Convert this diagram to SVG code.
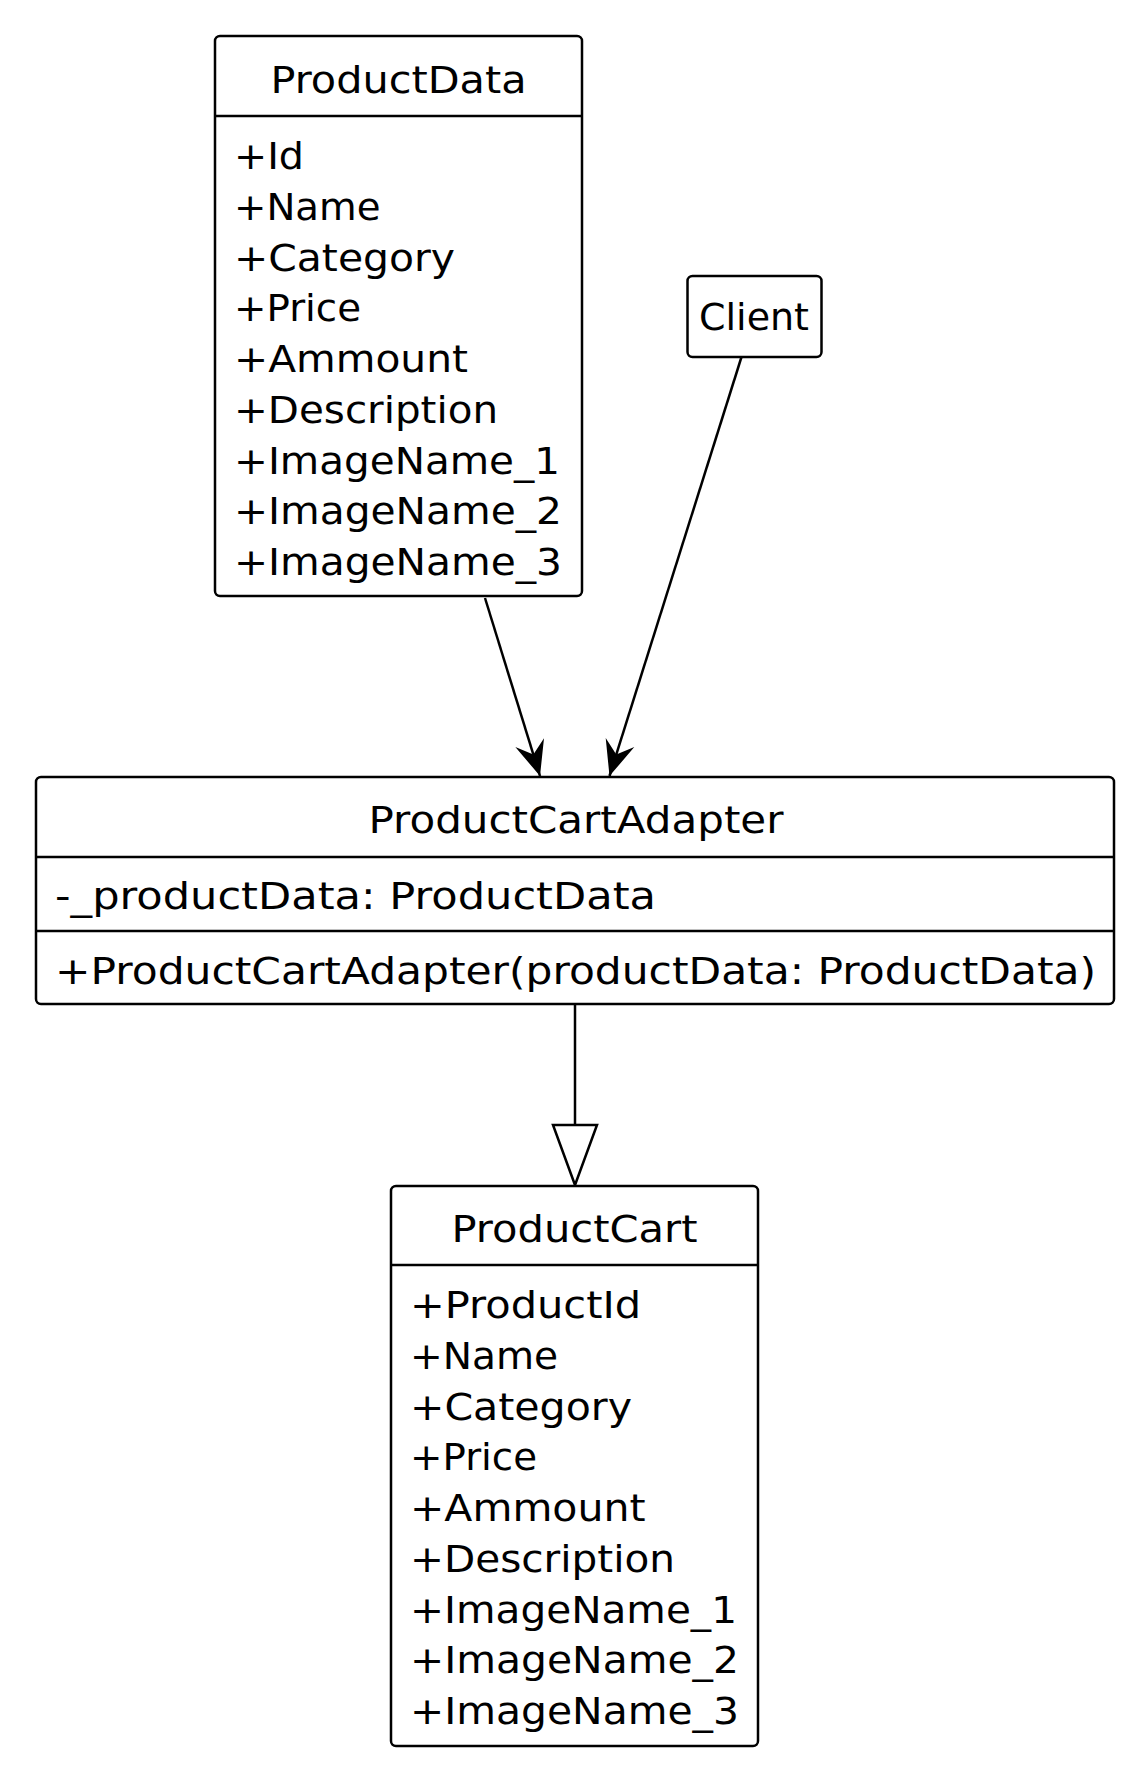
<svg xmlns="http://www.w3.org/2000/svg" width="1135" height="1768" viewBox="0 0 1135 1768">
<style>
.box{fill:#fff;stroke:#000;stroke-width:2.5}
.sep{stroke:#000;stroke-width:2.5}
.t{font-family:"DejaVu Sans",Verdana,sans-serif;font-size:38px;fill:#000}
.c{text-anchor:middle}
.edge{stroke:#000;stroke-width:2.5;fill:none}
</style>
<defs>
<marker id="arr" markerUnits="userSpaceOnUse" markerWidth="40" markerHeight="40" viewBox="-30 -15 32 30" refX="0" refY="0" orient="auto">
<path d="M0,0 L-28,-12 L-18,0 L-28,12 Z" fill="#000"/>
</marker>
</defs>
<rect width="1135" height="1768" fill="#fff"/>
<g id="connectors">
<line class="edge" x1="485" y1="598" x2="540" y2="776" marker-end="url(#arr)"/>
<line class="edge" x1="741.5" y1="357" x2="609.5" y2="776" marker-end="url(#arr)"/>
<line class="edge" x1="575" y1="1004" x2="575" y2="1125"/>
<polygon class="edge" points="553,1125 597,1125 575,1185" fill="#fff"/>
</g>
<g id="ProductData">
<rect class="box" x="215" y="36" width="367" height="560" rx="5"/>
<line class="sep" x1="215" y1="116" x2="582" y2="116"/>
<text class="t c" x="398.5" y="93" textLength="256" lengthAdjust="spacingAndGlyphs">ProductData</text>
<text class="t" x="234" y="169" textLength="70" lengthAdjust="spacingAndGlyphs">+Id</text>
<text class="t" x="234" y="220" textLength="146.5" lengthAdjust="spacingAndGlyphs">+Name</text>
<text class="t" x="234" y="270.5" textLength="221" lengthAdjust="spacingAndGlyphs">+Category</text>
<text class="t" x="234" y="321" textLength="127" lengthAdjust="spacingAndGlyphs">+Price</text>
<text class="t" x="234" y="372" textLength="234" lengthAdjust="spacingAndGlyphs">+Ammount</text>
<text class="t" x="234" y="423" textLength="264" lengthAdjust="spacingAndGlyphs">+Description</text>
<text class="t" x="234" y="473.5" textLength="326" lengthAdjust="spacingAndGlyphs">+ImageName_1</text>
<text class="t" x="234" y="524" textLength="328" lengthAdjust="spacingAndGlyphs">+ImageName_2</text>
<text class="t" x="234" y="575" textLength="328" lengthAdjust="spacingAndGlyphs">+ImageName_3</text>
</g>
<g id="Client">
<rect class="box" x="687.5" y="276" width="134" height="81" rx="5"/>
<text class="t c" x="754" y="330" textLength="110" lengthAdjust="spacingAndGlyphs">Client</text>
</g>
<g id="ProductCartAdapter">
<rect class="box" x="36" y="777" width="1078" height="227" rx="5"/>
<line class="sep" x1="36" y1="857" x2="1114" y2="857"/>
<line class="sep" x1="36" y1="931" x2="1114" y2="931"/>
<text class="t c" x="576" y="833" textLength="415" lengthAdjust="spacingAndGlyphs">ProductCartAdapter</text>
<text class="t" x="55" y="909" textLength="601" lengthAdjust="spacingAndGlyphs">-_productData: ProductData</text>
<text class="t" x="55" y="984" textLength="1041" lengthAdjust="spacingAndGlyphs">+ProductCartAdapter(productData: ProductData)</text>
</g>
<g id="ProductCart">
<rect class="box" x="391" y="1186" width="367" height="560" rx="5"/>
<line class="sep" x1="391" y1="1265" x2="758" y2="1265"/>
<text class="t c" x="574.5" y="1242" textLength="246" lengthAdjust="spacingAndGlyphs">ProductCart</text>
<text class="t" x="410" y="1318" textLength="231" lengthAdjust="spacingAndGlyphs">+ProductId</text>
<text class="t" x="410" y="1369" textLength="148" lengthAdjust="spacingAndGlyphs">+Name</text>
<text class="t" x="410" y="1419.5" textLength="222" lengthAdjust="spacingAndGlyphs">+Category</text>
<text class="t" x="410" y="1470" textLength="127" lengthAdjust="spacingAndGlyphs">+Price</text>
<text class="t" x="410" y="1521" textLength="235.5" lengthAdjust="spacingAndGlyphs">+Ammount</text>
<text class="t" x="410" y="1572" textLength="265" lengthAdjust="spacingAndGlyphs">+Description</text>
<text class="t" x="410" y="1622.5" textLength="327" lengthAdjust="spacingAndGlyphs">+ImageName_1</text>
<text class="t" x="410" y="1673" textLength="329" lengthAdjust="spacingAndGlyphs">+ImageName_2</text>
<text class="t" x="410" y="1724" textLength="329" lengthAdjust="spacingAndGlyphs">+ImageName_3</text>
</g>
</svg>
